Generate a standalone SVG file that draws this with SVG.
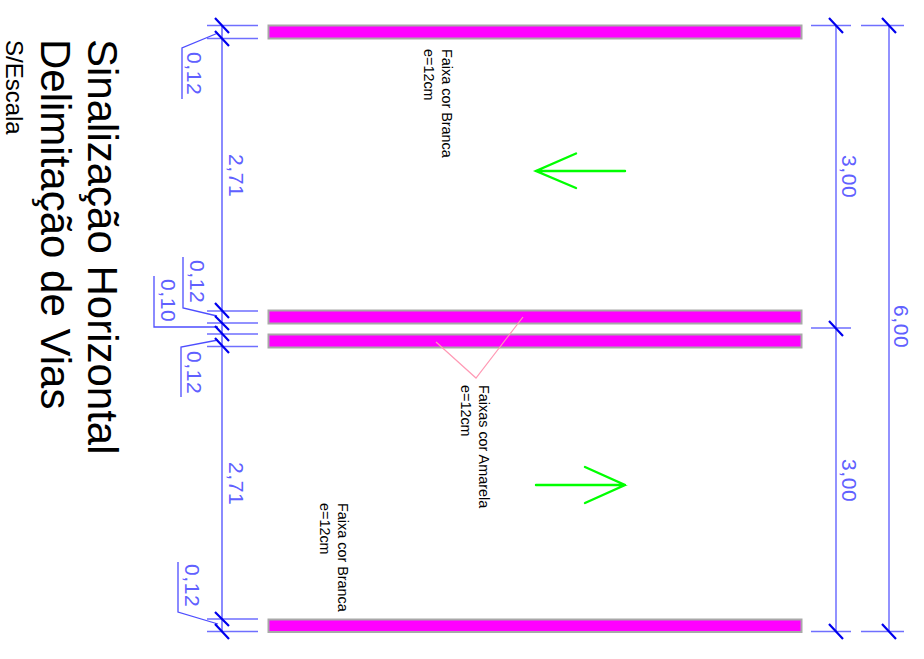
<svg xmlns="http://www.w3.org/2000/svg" width="924" height="659" viewBox="0 0 924 659">
<style>
.bar{fill:#ff00ff;stroke:#a8a8a8;stroke-width:2}
.dim{fill:none;stroke:#4d4dff;stroke-width:1.3}
.ext{fill:none;stroke:#6f6fff;stroke-width:1.5}
.tick{fill:none;stroke:#0000ee;stroke-width:2.2}
.arrow{fill:none;stroke:#00ff00;stroke-width:2.4;stroke-linecap:round}
.pink{fill:none;stroke:#ff9ab5;stroke-width:1.2}
.dt{font-family:"Liberation Sans",Arial,sans-serif;font-size:21px;fill:#6060ff;letter-spacing:0.6px}
.note{font-family:"Liberation Sans",Arial,sans-serif;font-size:14.4px;fill:#000}
.title{font-family:"Liberation Sans",Arial,sans-serif;font-size:42px;fill:#000}
.sub{font-family:"Liberation Sans",Arial,sans-serif;font-size:24px;fill:#000}
</style>
<g id="bars">
<rect class="bar" x="268.500" y="25.500" width="533" height="13"/>
<rect class="bar" x="268.500" y="310.500" width="533" height="13"/>
<rect class="bar" x="268.500" y="334.500" width="533" height="13"/>
<rect class="bar" x="268.500" y="619.500" width="533" height="12.500"/>
</g>
<g id="connectors">
<path class="ext" d="M207 25.500H258M207 38.500H258M207 311H258M207 323H258M207 334H258M207 346.500H258M207 619H258M207 631.500H258"/>
<path class="dim" d="M222 25V632M182 99V48L218 33M183 257V308L217 316M154 276V327H218M181 397V347L218 340M178 562V612L218 624"/>
<path class="tick" d="M215 18L229 33M215 31L229 46M215 303L229 318M215 316L229 330M215 326L229 341M215 338L229 353M215 612L229 626M215 624L229 639"/>
<path class="ext" d="M811 25.500H851M861 25.500H904M811 328H851M811 631.500H851M861 631.500H904M836 25V632M889 25V632"/>
<path class="tick" d="M829 18L843 33M882 18L896 33M829 321L843 336M829 624L843 639M882 624L896 639"/>
<path class="pink" d="M523 317L476 378L436 342"/>
</g>
<g id="arrow-up"><path class="arrow" d="M625 171H536M576 153.500L536 171L576 188"/></g>
<g id="arrow-down"><path class="arrow" d="M536 485H625M585 467L625 485L585 503"/></g>
<g id="dimension-labels">
<text class="dt" transform="translate(187,52) rotate(90)">0,12</text>
<text class="dt" transform="translate(190,260) rotate(90)">0,12</text>
<text class="dt" transform="translate(161,279) rotate(90)">0,10</text>
<text class="dt" transform="translate(187,351) rotate(90)">0,12</text>
<text class="dt" transform="translate(185,564) rotate(90)">0,12</text>
<text class="dt" transform="translate(229,154) rotate(90)">2,71</text>
<text class="dt" transform="translate(229,462) rotate(90)">2,71</text>
<text class="dt" transform="translate(842,155) rotate(90)">3,00</text>
<text class="dt" transform="translate(842,459) rotate(90)">3,00</text>
<text class="dt" transform="translate(894,305) rotate(90)">6,00</text>
</g>
<g id="notes">
<text class="note" transform="translate(442,49) rotate(90)">Faixa cor Branca</text>
<text class="note" transform="translate(424,49) rotate(90)">e=12cm</text>
<text class="note" transform="translate(479,385) rotate(90)">Faixas cor Amarela</text>
<text class="note" transform="translate(461,385) rotate(90)">e=12cm</text>
<text class="note" transform="translate(338,503) rotate(90)">Faixa cor Branca</text>
<text class="note" transform="translate(320,503) rotate(90)">e=12cm</text>
</g>
<g id="title">
<text class="title" transform="translate(88,39) rotate(90)">Sinalização Horizontal</text>
<text class="title" transform="translate(41,39) rotate(90)">Delimitação de Vias</text>
<text class="sub" transform="translate(6,40) rotate(90)">S/Escala</text>
</g>
</svg>
